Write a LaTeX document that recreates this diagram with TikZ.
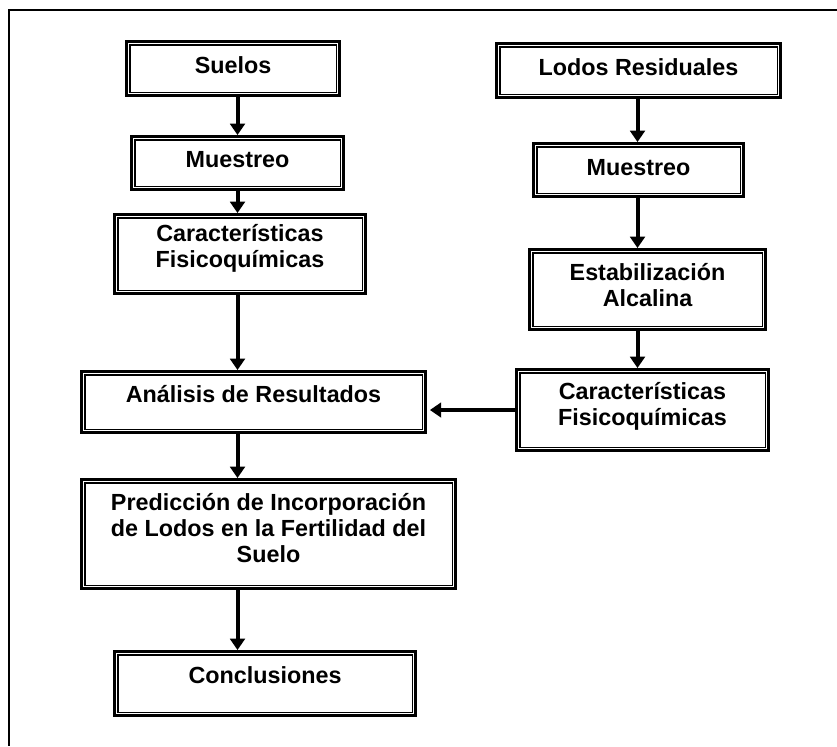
\documentclass[tikz,border=0pt]{standalone}
\usepackage{fontspec}
\setmainfont{Liberation Sans}
\usetikzlibrary{arrows.meta,calc}
\begin{document}
\begin{tikzpicture}[x=0.75pt,y=-0.75pt,
  bx/.style n args={2}{draw=black, line width=2.2pt, inner sep=0pt, fill=white,
    minimum width={(#1-3)*0.75pt}, minimum height={(#2-3)*0.75pt}},
  txt/.style={align=center, inner sep=0pt,
    font=\fontsize{17.5}{19}\selectfont\bfseries},
  arr/.style={line width=3pt, -{Triangle[width=11pt,length=8.5pt]}},
  frame/.style={line width=1.5pt}]
\useasboundingbox (0,0) rectangle (837,746);
% outer frame (only top and left edges visible)
\coordinate (fa) at (837,10);
\coordinate (fb) at (9,10);
\coordinate (fc) at (9,746);
\draw[frame] (fa) -- (fb) -- (fc);
% boxes
\node[bx={216}{57}] (suelos) at (233,68.5) {};
\node[bx={215}{56}] (mue1) at (237.5,163) {};
\node[bx={254}{82}] (car1) at (240,254) {};
\node[bx={287}{57}] (lodos) at (638.5,70.5) {};
\node[bx={213}{56}] (mue2) at (638.5,170) {};
\node[bx={239}{83}] (estab) at (647.5,289.5) {};
\node[bx={347}{64}] (anal) at (253.5,402) {};
\node[bx={255}{84}] (car2) at (642.5,410) {};
\node[bx={377}{112}] (pred) at (268.5,534) {};
\node[bx={304}{67}] (concl) at (265,683.5) {};
\foreach \n in {suelos,mue1,car1,lodos,mue2,estab,anal,car2,pred,concl}
  \draw[line width=1pt] ([shift={(4.8,4.8)}]\n.north west) rectangle ([shift={(-4.8,-4.8)}]\n.south east);
% texts
\node[txt] (tsuelos) at (233,65) {Suelos};
\node[txt] (tmue1) at (237.5,160) {Muestreo};
\node[txt] (tcar1) at (240,248.5) {Características\\Fisicoquímicas};
\node[txt] (tlodos) at (638.5,67) {Lodos Residuales};
\node[txt] (tmue2) at (638.5,168) {Muestreo};
\node[txt] (testab) at (647.5,285) {Estabilización\\Alcalina};
\node[txt] (tanal) at (253.5,394) {Análisis de Resultados};
\node[txt] (tcar2) at (642.5,406.5) {Características\\Fisicoquímicas};
\node[txt, font=\fontsize{17.5}{19.2}\selectfont\bfseries] (tpred) at (268.5,528) {Predicción de Incorporación\\de Lodos en la Fertilidad del\\Suelo};
\node[txt] (tconcl) at (265,675) {Conclusiones};
% connectors
\coordinate (xl) at (237.5,0);
\coordinate (xr) at (637.5,0);
\draw[arr] (suelos.south -| xl) -- (mue1.north -| xl);
\draw[arr] (mue1.south -| xl) -- (car1.north -| xl);
\draw[arr] (car1.south -| xl) -- (anal.north -| xl);
\draw[arr] (anal.south -| xl) -- (pred.north -| xl);
\draw[arr] (pred.south -| xl) -- (concl.north -| xl);
\draw[arr] (lodos.south -| xr) -- (mue2.north -| xr);
\draw[arr] (mue2.south -| xr) -- (estab.north -| xr);
\draw[arr] (estab.south -| xr) -- (car2.north -| xr);
\draw[arr, shorten >=2.2pt] (car2.west) -- (car2.west -| anal.east);
\end{tikzpicture}
\end{document}
